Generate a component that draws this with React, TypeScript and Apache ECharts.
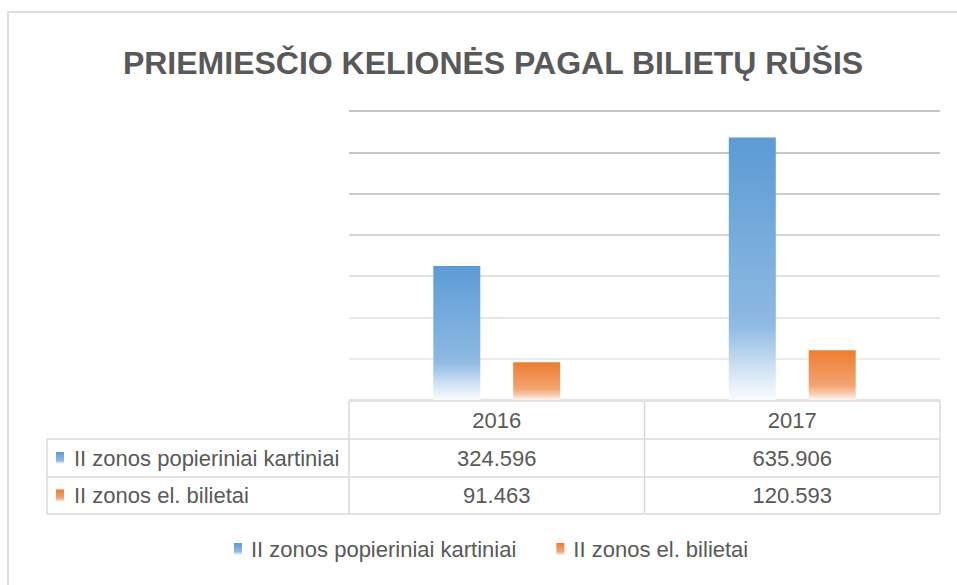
import React, { useEffect, useRef } from 'react';
import * as echarts from 'echarts';

const titleText = 'PRIEMIESČIO KELIONĖS PAGAL BILIETŲ RŪŠIS';
const categories = ['2016', '2017'];
const seriesNames = ['II zonos popieriniai kartiniai', 'II zonos el. bilietai'];
const paperSingle = [324.596, 635.906];
const electronic = [91.463, 120.593];
const axisMax = 700;
const axisInterval = 100;

const W = 957;
const H = 585;
const PLOT_L = 349;
const PLOT_R = 940;
const PLOT_T = 111;
const PLOT_B = 400;
const TABLE_L = 47;
const ROWS = [401, 439, 477, 514];
const FONT = "'Liberation Sans Narrow', 'Liberation Sans', sans-serif";
const TXT = '#595959';
const LINE = '#dadada';

const blueGrad = () =>
  new echarts.graphic.LinearGradient(0, 0, 0, 1, [
    { offset: 0, color: '#5B9BD5' },
    { offset: 0.72, color: '#8FBAE3' },
    { offset: 0.86, color: '#C8DDF1' },
    { offset: 1, color: '#FAFCFE' },
  ]);
const orangeGrad = () =>
  new echarts.graphic.LinearGradient(0, 0, 0, 1, [
    { offset: 0, color: '#ED7D31' },
    { offset: 0.7, color: '#F2A470' },
    { offset: 0.86, color: '#F7C9A9' },
    { offset: 1, color: '#FEF7F2' },
  ]);

export default function App() {
  const ref = useRef<HTMLDivElement>(null);
  useEffect(() => {
    document.body.style.margin = '0';
    if (!ref.current) return;
    const chart = echarts.init(ref.current, undefined, { renderer: 'svg' });
    const colW = (PLOT_R - PLOT_L) / categories.length;
    const graphics: any[] = [];
    // chart border
    graphics.push({
      type: 'rect',
      shape: { x: 8, y: 12, width: W + 20, height: H + 20 },
      style: { fill: 'none', stroke: '#dedede', lineWidth: 2 },
      silent: true,
    });
    // table lines
    const hl = (x1: number, x2: number, y: number) =>
      graphics.push({ type: 'line', shape: { x1, y1: y, x2, y2: y }, style: { stroke: LINE, lineWidth: 1.5 }, silent: true });
    const vl = (x: number, y1: number, y2: number) =>
      graphics.push({ type: 'line', shape: { x1: x, y1, x2: x, y2 }, style: { stroke: LINE, lineWidth: 1.5 }, silent: true });
    hl(PLOT_L, PLOT_R, ROWS[0]);
    hl(TABLE_L, PLOT_R, ROWS[1]);
    hl(TABLE_L, PLOT_R, ROWS[2]);
    hl(TABLE_L, PLOT_R, ROWS[3]);
    vl(TABLE_L, ROWS[1], ROWS[3]);
    for (let i = 0; i <= categories.length; i++) vl(PLOT_L + colW * i, ROWS[0], ROWS[3]);
    const rowData = [paperSingle, electronic];
    const grads = [blueGrad, orangeGrad];
    categories.forEach((c, i) => {
      graphics.push({
        type: 'text',
        x: PLOT_L + colW * (i + 0.5),
        y: (ROWS[0] + ROWS[1]) / 2,
        style: { text: c, fill: TXT, font: `22px ${FONT}`, textAlign: 'center', textVerticalAlign: 'middle' },
      });
    });
    rowData.forEach((vals, r) => {
      const yc = (ROWS[r + 1] + ROWS[r + 2]) / 2;
      graphics.push({
        type: 'rect',
        shape: { x: 56, y: yc - 6, width: 8, height: 12 },
        style: { fill: grads[r]() },
      });
      graphics.push({
        type: 'text',
        x: 74,
        y: yc,
        style: { text: seriesNames[r], fill: TXT, font: `22px ${FONT}`, textAlign: 'left', textVerticalAlign: 'middle' },
      });
      vals.forEach((v, i) => {
        graphics.push({
          type: 'text',
          x: PLOT_L + colW * (i + 0.5),
          y: yc,
          style: { text: v.toFixed(3), fill: TXT, font: `22px ${FONT}`, textAlign: 'center', textVerticalAlign: 'middle' },
        });
      });
    });

    chart.setOption({
      animation: false,
      backgroundColor: '#ffffff',
      title: {
        text: titleText,
        left: 488,
        textAlign: 'center',
        top: 42,
        textStyle: { fontFamily: FONT, fontSize: 32, fontWeight: 'bold', color: TXT },
      },
      legend: {
        left: 229,
        top: 533,
        icon: 'rect',
        itemWidth: 8,
        itemHeight: 12,
        itemGap: 40,
        textStyle: { fontFamily: FONT, fontSize: 22, color: TXT, padding: [0, 0, 0, 4] },
        data: seriesNames,
      },
      grid: { left: PLOT_L, right: W - PLOT_R, top: PLOT_T, bottom: H - PLOT_B, containLabel: false },
      xAxis: {
        type: 'category',
        data: categories,
        axisLine: { show: false },
        axisTick: { show: false },
        axisLabel: { show: false },
      },
      yAxis: {
        type: 'value',
        min: 0,
        max: axisMax,
        interval: axisInterval,
        axisLabel: { show: false },
        axisLine: { show: false },
        axisTick: { show: false },
        splitLine: {
          lineStyle: {
            width: 2,
            color: ['#e2e2e2', '#ececec', '#e8e8e8', '#e2e2e2', '#d6d6d6', '#cccccc', '#c6c6c6', '#c4c4c4'],
          },
        },
      },
      series: [
        {
          name: seriesNames[0],
          type: 'bar',
          data: paperSingle,
          barWidth: 47,
          barGap: '70%',
          itemStyle: { color: blueGrad() },
        },
        {
          name: seriesNames[1],
          type: 'bar',
          data: electronic,
          barWidth: 47,
          barGap: '70%',
          itemStyle: { color: orangeGrad() },
        },
      ],
      graphic: graphics,
    });
    return () => chart.dispose();
  }, []);
  return <div ref={ref} style={{ width: W, height: H }} />;
}
